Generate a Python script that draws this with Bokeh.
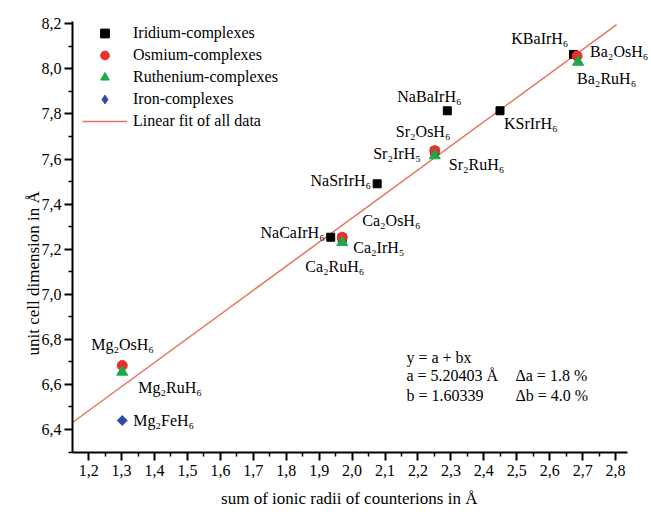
import numpy as np
from bokeh.plotting import figure
from bokeh.models import (ColumnDataSource, Range1d, FixedTicker, CustomJSTickFormatter,
                          Legend, LegendItem, Label, LabelSet, Title)
from bokeh.core.properties import value
from bokeh.embed import file_html
from bokeh.resources import INLINE

# ---------------- data ----------------
ir_names = ["NaCaIrH₆", "Ca₂IrH₅", "NaSrIrH₆", "Sr₂IrH₅", "NaBaIrH₆", "KSrIrH₆", "KBaIrH₆"]
ir_x = [1.935, 1.970, 2.076, 2.251, 2.289, 2.449, 2.672]
ir_y = [7.253, 7.250, 7.490, 7.635, 7.814, 7.814, 8.064]

os_names = ["Mg₂OsH₆", "Ca₂OsH₆", "Sr₂OsH₆", "Ba₂OsH₆"]
os_x = [1.302, 1.970, 2.251, 2.683]
os_y = [6.684, 7.253, 7.637, 8.057]

ru_names = ["Mg₂RuH₆", "Ca₂RuH₆", "Sr₂RuH₆", "Ba₂RuH₆"]
ru_x = [1.302, 1.970, 2.251, 2.686]
ru_y = [6.655, 7.230, 7.615, 8.030]

fe_names = ["Mg₂FeH₆"]
fe_x = [1.302]
fe_y = [6.440]

fit_x = [1.151, 2.803]
fit_y = [6.431, 8.196]

x_ticks = [1.2, 1.3, 1.4, 1.5, 1.6, 1.7, 1.8, 1.9, 2.0, 2.1, 2.2, 2.3, 2.4, 2.5, 2.6, 2.7, 2.8]
x_minor = [1.15, 1.25, 1.35, 1.45, 1.55, 1.65, 1.75, 1.85, 1.95, 2.05, 2.15, 2.25, 2.35,
           2.45, 2.55, 2.65, 2.75]
y_ticks = [6.4, 6.6, 6.8, 7.0, 7.2, 7.4, 7.6, 7.8, 8.0, 8.2]
y_minor = [6.3, 6.5, 6.7, 6.9, 7.1, 7.3, 7.5, 7.7, 7.9, 8.1]

x_title = "sum of ionic radii of counterions in Å"
y_title = "unit cell dimension in Å"
fit_text = ["y = a + bx", "a = 5.20403 Å", "b = 1.60339"]
fit_err = ["Δa = 1.8 %", "Δb = 4.0 %"]

# ---------------- styles ----------------
FONT = "Liberation Serif"
RED = "#e8302a"
GREEN = "#1ea84a"
BLUE = "#2c48a8"
LINE = "#e8735c"

# label placement (screen px offsets, y down) per label, same order as names
ir_off = [(-6, -5, "right"), (11, 10, "left"), (-6, -3, "right"), (-14, 2, "right"),
          (-50, -14, "left"), (4, 13, "left"), (-5, -16, "right")]
os_off = [(-31, -21, "left"), (20, -17, "left"), (-39, -19, "left"), (13, -4, "left")]
ru_off = [(16, 15, "left"), (-37, 24, "left"), (14, 9, "left"), (-1, 16, "left")]
fe_off = [(11, 0, "left")]

X_AXIS_END = 2.836
p = figure(width=651, height=512, output_backend="svg", toolbar_location=None,
           x_range=Range1d(1.151, 2.909), y_range=Range1d(6.298, 8.21),
           min_border_left=72, min_border_right=0, min_border_top=21, min_border_bottom=60)
p.grid.visible = False
p.outline_line_color = None
p.background_fill_color = "white"

for ax in (p.xaxis[0], p.yaxis[0]):
    ax.axis_line_width = 2
    ax.axis_line_color = "black"
    ax.major_tick_line_width = 2
    ax.minor_tick_line_width = 1.5
    ax.major_tick_in = 0
    ax.minor_tick_in = 0
    ax.major_tick_out = 8
    ax.minor_tick_out = 4
    ax.major_label_text_font = FONT
    ax.major_label_text_font_size = "16px"
    ax.major_label_text_color = "black"
    ax.formatter = CustomJSTickFormatter(code="return tick.toFixed(1).replace('.', ',');")

p.xaxis[0].bounds = (1.151, X_AXIS_END)
p.xaxis[0].ticker = FixedTicker(ticks=x_ticks, minor_ticks=x_minor)
p.yaxis[0].ticker = FixedTicker(ticks=y_ticks, minor_ticks=y_minor)
p.xaxis[0].major_label_standoff = 4
p.yaxis[0].major_label_standoff = 3
# trailing no-break spaces shift the centred label left, over the drawn axis extent
p.xaxis[0].axis_label = x_title + "\u00a0" * 6
p.xaxis[0].axis_label_text_font = FONT
p.xaxis[0].axis_label_text_font_size = "17px"
p.xaxis[0].axis_label_text_font_style = "normal"
p.xaxis[0].axis_label_text_color = "black"
p.xaxis[0].axis_label_standoff = 10

p.add_layout(Title(text=y_title, align="left", offset=97, text_font=FONT,
                   text_font_size="17px", text_font_style="normal", text_color="black",
                   standoff=-8), "left")

r_fit = p.line(fit_x, fit_y, line_color=LINE, line_width=1.5)
r_ir = p.scatter(ir_x, ir_y, marker="square", size=8, color="black")
r_os = p.scatter(os_x, os_y, marker="circle", size=10, color=RED)
r_ru = p.scatter(ru_x, ru_y, marker="triangle", size=11, color=GREEN)
r_fe_leg = p.scatter(fe_x, fe_y, marker="diamond", size=1, color=BLUE)
r_fe = p.scatter(fe_x, fe_y, marker="square", size=7, angle=np.pi / 4, color=BLUE)

names = ir_names + os_names + ru_names + fe_names
xs = ir_x + os_x + ru_x + fe_x
ys = ir_y + os_y + ru_y + fe_y
offs = ir_off + os_off + ru_off + fe_off
src = ColumnDataSource(dict(x=xs, y=ys, text=names,
                            dx=[o[0] for o in offs], dy=[-o[1] for o in offs],
                            align=[o[2] for o in offs]))
labels = LabelSet(x="x", y="y", text="text", x_offset="dx", y_offset="dy",
                  text_align="align", text_baseline="middle", text_font=value(FONT),
                  text_font_size="16px", text_color="black", source=src)
p.add_layout(labels)

legend = Legend(items=[
    LegendItem(label="Iridium-complexes", renderers=[r_ir]),
    LegendItem(label="Osmium-complexes", renderers=[r_os]),
    LegendItem(label="Ruthenium-complexes", renderers=[r_ru]),
    LegendItem(label="Iron-complexes", renderers=[r_fe_leg]),
    LegendItem(label="Linear fit of all data", renderers=[r_fit]),
], location=(10, 320), margin=0, padding=0, spacing=0,
    label_height=22, glyph_height=22, glyph_width=45, label_standoff=6,
    label_text_font=FONT, label_text_font_size="16px", label_text_color="black",
    border_line_alpha=0, background_fill_alpha=0)
p.add_layout(legend)

lbl_style = dict(x_units="data", y_units="data", text_font=FONT, text_font_size="16px",
                 text_color="black", text_baseline="middle", text_align="left")
for t, yy in zip(fit_text, [6.72, 6.64, 6.551]):
    p.add_layout(Label(x=2.165, y=yy, text=t, **lbl_style))
for t, yy in zip(fit_err, [6.64, 6.551]):
    p.add_layout(Label(x=2.496, y=yy, text=t, **lbl_style))

open("out.html", "w").write(file_html(p, INLINE))
